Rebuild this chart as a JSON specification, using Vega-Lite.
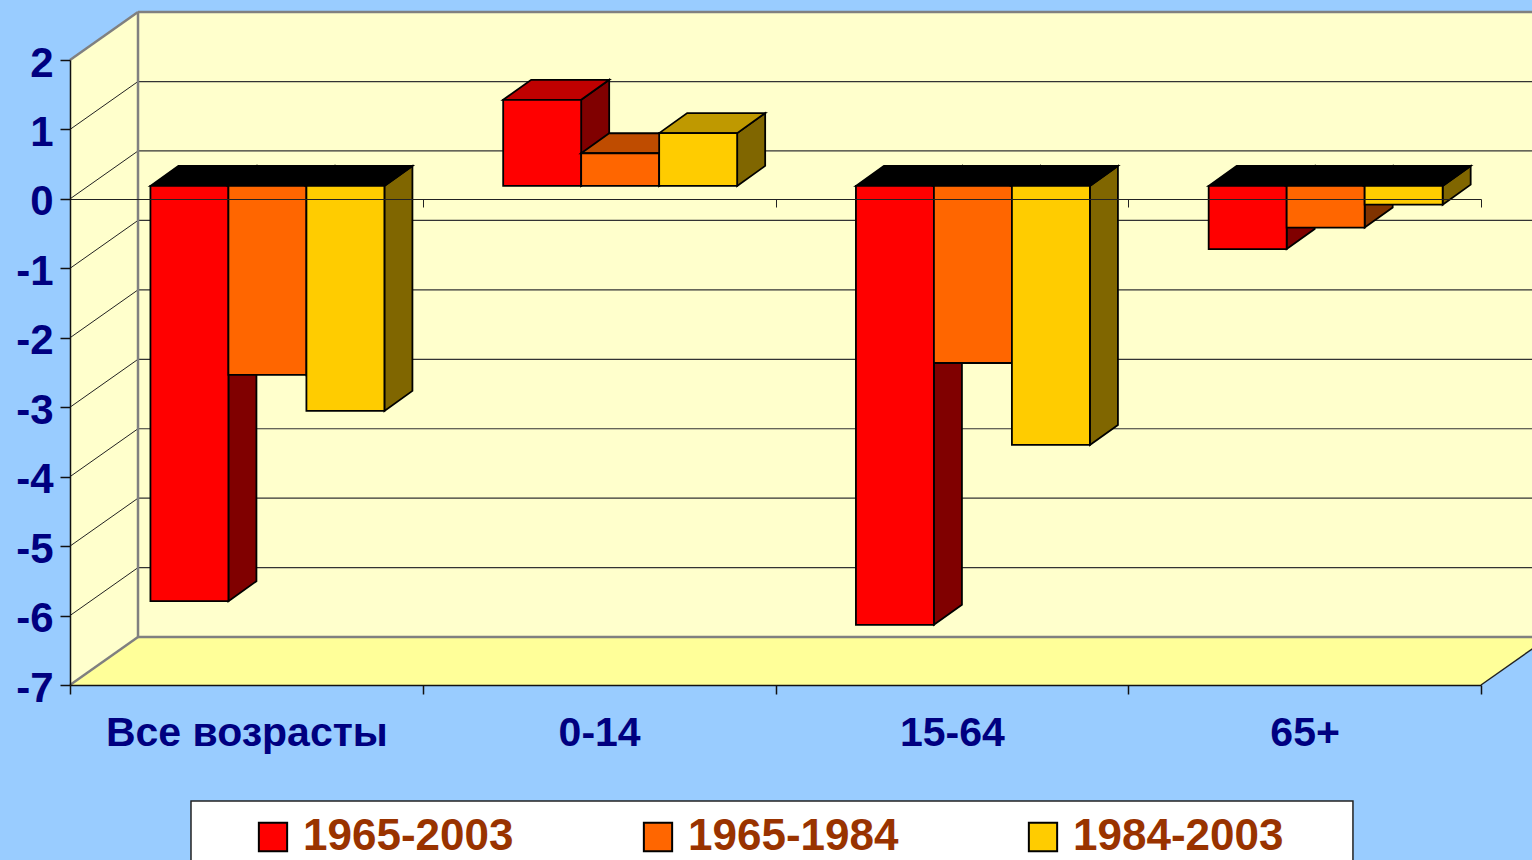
{
"$schema":"https://vega.github.io/schema/vega-lite/v6.json",
"width":1411,"height":625,
"autosize":{"type":"none"},
"padding":{"left":70,"top":60,"right":51,"bottom":175},
"background":"#99CCFF",
"view":{"stroke":null},
"data":{"values":[
{"category":"Все возрасты","series":"1965-2003","value":-5.98},
{"category":"Все возрасты","series":"1965-1984","value":-2.72},
{"category":"Все возрасты","series":"1984-2003","value":-3.24},
{"category":"0-14","series":"1965-2003","value":1.24},
{"category":"0-14","series":"1965-1984","value":0.47},
{"category":"0-14","series":"1984-2003","value":0.76},
{"category":"15-64","series":"1965-2003","value":-6.32},
{"category":"15-64","series":"1965-1984","value":-2.55},
{"category":"15-64","series":"1984-2003","value":-3.73},
{"category":"65+","series":"1965-2003","value":-0.91},
{"category":"65+","series":"1965-1984","value":-0.6},
{"category":"65+","series":"1984-2003","value":-0.27}
]},
"layer":[
{"data":{"values":[{"x":0,"top":2,"bottom":-7},{"x":0.1928,"top":2.69,"bottom":-6.31}]},
 "mark":{"type":"area","fill":"#FFFFCC","stroke":null},
 "encoding":{
  "x":{"field":"x","type":"quantitative","scale":{"domain":[0,4],"nice":false,"zero":false},
   "axis":{"orient":"bottom","values":[0,1,2,3,4],"title":null,"labels":false,"grid":false,"tickSize":9,"tickColor":"#111","domainColor":"#111","tickWidth":1.5,"domainWidth":1.5,"zindex":1}},
  "y":{"field":"top","type":"quantitative","scale":{"domain":[-7,2],"nice":false,"zero":false},
   "axis":{"orient":"left","values":[2,1,0,-1,-2,-3,-4,-5,-6,-7],"title":null,"grid":false,"tickSize":10,"tickColor":"#111","domainColor":"#111","tickWidth":1.5,"domainWidth":1.5,"labelExpr":"'' + datum.value","labelFont":"Liberation Sans","labelFontWeight":"bold","labelFontSize":42,"labelColor":"#000080","labelPadding":7,"labelOffset":3,"labelOverlap":false,"zindex":1}},
  "y2":{"field":"bottom"}}},
{"data":{"values":[{"x":0.1928,"top":2.69,"bottom":-6.31},{"x":4.1928,"top":2.69,"bottom":-6.31}]},
 "mark":{"type":"area","fill":"#FFFFCC","stroke":null},
 "encoding":{
  "x":{"field":"x","type":"quantitative","scale":{"domain":[0,4],"nice":false,"zero":false},
   "axis":{"orient":"bottom","values":[0.5,1.5,2.5,3.5],"title":null,"grid":false,"domain":false,"ticks":false,"labelExpr":"['Все возрасты','0-14','15-64','65+'][floor(datum.value)]","labelFont":"Liberation Sans","labelFontWeight":"bold","labelFontSize":41,"labelColor":"#000080","labelPadding":28,"labelOverlap":false,"labelFlush":false,"labelLimit":500}},
  "y":{"field":"top","type":"quantitative","scale":{"domain":[-7,2],"nice":false,"zero":false},"axis":null},
  "y2":{"field":"bottom"}}},
{"data":{"values":[{"y":-7,"x":0,"x2":4},{"y":-6.31,"x":0.1928,"x2":4.1928}]},
 "mark":{"type":"area","orient":"horizontal","fill":"#FFFF99","stroke":null},
 "encoding":{
  "y":{"field":"y","type":"quantitative","scale":{"domain":[-7,2],"nice":false,"zero":false},"axis":null},
  "x":{"field":"x","type":"quantitative","scale":{"domain":[0,4],"nice":false,"zero":false},"axis":null},
  "x2":{"field":"x2"}}},
{"data":{"values":[{"tick":1},{"tick":0},{"tick":-1},{"tick":-2},{"tick":-3},{"tick":-4},{"tick":-5},{"tick":-6}]},
 "transform":[{"calculate":"datum.tick+0.69","as":"back"}],
 "layer":[
  {"mark":{"type":"rule","stroke":"#222","strokeWidth":1},
   "encoding":{
    "x":{"datum":0,"type":"quantitative","scale":{"domain":[0,4],"nice":false,"zero":false},"axis":null},
    "x2":{"datum":0.1928},
    "y":{"field":"tick","type":"quantitative","scale":{"domain":[-7,2],"nice":false,"zero":false},"axis":null},
    "y2":{"field":"back"}}},
  {"mark":{"type":"rule","stroke":"#333","strokeWidth":1.2},
   "encoding":{
    "x":{"datum":0.1928,"type":"quantitative","scale":{"domain":[0,4],"nice":false,"zero":false},"axis":null},
    "x2":{"datum":4.1928},
    "y":{"field":"back","type":"quantitative","scale":{"domain":[-7,2],"nice":false,"zero":false},"axis":null}}}
 ]},
{"data":{"values":[{"x":0,"x2":0.1928,"y":2,"y2":2.69},{"x":0,"x2":0.1928,"y":-7,"y2":-6.31},{"x":0.1928,"x2":4.1928,"y":2.69,"y2":2.69},{"x":0.1928,"x2":4.1928,"y":-6.31,"y2":-6.31},{"x":0.1928,"x2":0.1928,"y":2.69,"y2":-6.31}]},
 "mark":{"type":"rule","stroke":"#808080","strokeWidth":2.5},
 "encoding":{
  "x":{"field":"x","type":"quantitative","scale":{"domain":[0,4],"nice":false,"zero":false},"axis":null},
  "x2":{"field":"x2"},
  "y":{"field":"y","type":"quantitative","scale":{"domain":[-7,2],"nice":false,"zero":false},"axis":null},
  "y2":{"field":"y2"}}},
{"data":{"values":[{"x":4,"x2":4.1928,"y":-7,"y2":-6.31}]},
 "mark":{"type":"rule","stroke":"#222","strokeWidth":1.5},
 "encoding":{
  "x":{"field":"x","type":"quantitative","scale":{"domain":[0,4],"nice":false,"zero":false},"axis":null},
  "x2":{"field":"x2"},
  "y":{"field":"y","type":"quantitative","scale":{"domain":[-7,2],"nice":false,"zero":false},"axis":null},
  "y2":{"field":"y2"}}},
{"data":{"values":[{"x":0.343,"x2":3.637,"y":-8.67,"y2":-9.6}]},
 "mark":{"type":"rect","fill":"#FFFFFF","stroke":"#222","strokeWidth":1.5},
 "encoding":{
  "x":{"field":"x","type":"quantitative","scale":{"domain":[0,4],"nice":false,"zero":false},"axis":null},
  "x2":{"field":"x2"},
  "y":{"field":"y","type":"quantitative","scale":{"domain":[-7,2],"nice":false,"zero":false},"axis":null},
  "y2":{"field":"y2"}}},
{"transform":[
  {"calculate":"indexof(['Все возрасты','0-14','15-64','65+'],datum.category)+0.177+indexof(['1965-2003','1965-1984','1984-2003'],datum.series)*0.2211","as":"L"},
  {"calculate":"datum.L+0.2211","as":"R"},
  {"calculate":"max(datum.value,0)","as":"hi"},
  {"calculate":"min(datum.value,0)","as":"lo"},
  {"calculate":"['side','top','front']","as":"face"},
  {"flatten":["face"]},
  {"calculate":"[0,1,2,3]","as":"k"},
  {"flatten":["k"]},
  {"calculate":"datum.face=='front'?(datum.k<2?datum.L:datum.R)+0.051:datum.face=='side'?datum.R+(datum.k<2?0.051:0.1304):[datum.L+0.051,datum.L+0.1304,datum.R+0.051,datum.R+0.1304][datum.k]","as":"px"},
  {"calculate":"datum.face=='front'?datum.hi+0.187:datum.face=='side'?datum.hi+(datum.k<2?0.187:0.475):datum.hi+(datum.k==0?0.187:0.475)","as":"py"},
  {"calculate":"datum.face=='front'?datum.lo+0.187:datum.face=='side'?datum.lo+(datum.k<2?0.187:0.475):datum.hi+(datum.k==3?0.475:0.187)","as":"py2"},
  {"calculate":"datum.face=='front'?datum.series:datum.face=='top'&&datum.value<0?'negative top':datum.series+' '+datum.face","as":"shade"},
  {"calculate":"datum.category+' '+datum.series+' '+datum.face","as":"faceId"}
 ],
 "mark":{"type":"area","stroke":"#000000","strokeWidth":1.8,"opacity":1},
 "encoding":{
  "x":{"field":"px","type":"quantitative","scale":{"domain":[0,4],"nice":false,"zero":false},
   "axis":{"orient":"bottom","offset":-486,"values":[0,1,2,3,4],"title":null,"labels":false,"grid":false,"tickSize":8,"tickColor":"#222","domainColor":"#222","tickWidth":1,"domainWidth":1,"zindex":1}},
  "y":{"field":"py","type":"quantitative","scale":{"domain":[-7,2],"nice":false,"zero":false},"axis":null},
  "y2":{"field":"py2"},
  "detail":{"field":"faceId"},
  "color":{"field":"shade","type":"nominal",
   "scale":{"domain":["1965-2003","1965-1984","1984-2003","1965-2003 side","1965-1984 side","1984-2003 side","1965-2003 top","1965-1984 top","1984-2003 top","negative top"],
    "range":["#FF0000","#FF6600","#FFCC00","#800000","#803300","#806600","#BF0000","#BF4C00","#BF9900","#000000"]},
   "legend":{"values":["1965-2003","1965-1984","1984-2003"],"title":null,"orient":"none","legendX":181,"legendY":755,"columns":3,"direction":"horizontal","padding":0,"columnPadding":122,"symbolType":"square","symbolSize":800,"symbolStrokeColor":"#000000","symbolStrokeWidth":2,"symbolOpacity":1,"labelFont":"Liberation Sans","labelFontWeight":"bold","labelFontSize":44,"labelColor":"#993300","labelOffset":8,"labelLimit":400,"fillColor":null,"strokeColor":null}}}}
],
"resolve":{"axis":{"x":"independent","y":"independent"}}
}
